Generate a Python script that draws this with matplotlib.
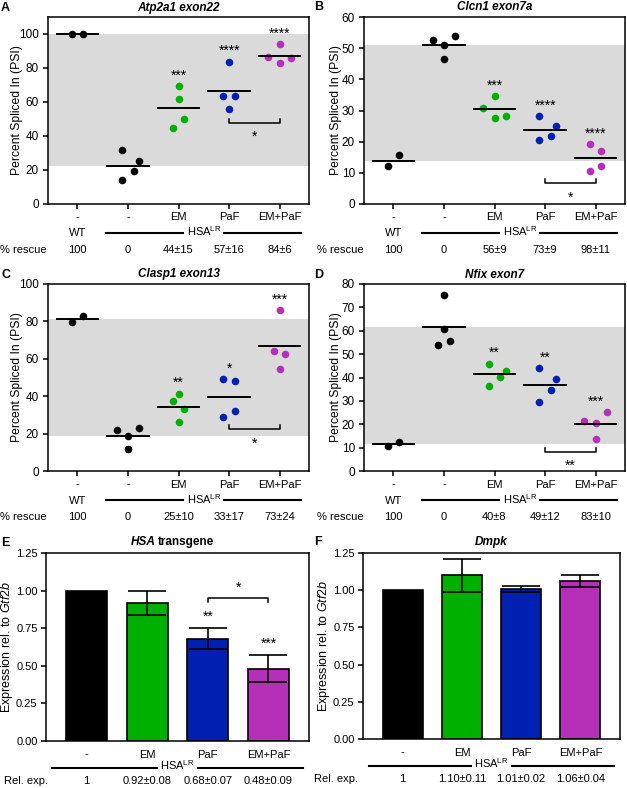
import matplotlib
matplotlib.use('Agg')
import matplotlib.pyplot as plt
from matplotlib.transforms import offset_copy
import numpy as np

plt.rcParams['font.family'] = 'Liberation Sans'
plt.rcParams['mathtext.fontset'] = 'custom'
plt.rcParams['mathtext.rm'] = 'Liberation Sans'
plt.rcParams['mathtext.it'] = 'Liberation Sans:italic'
plt.rcParams['mathtext.bf'] = 'Liberation Sans:bold'

W, H = 627, 788

groups = ['-', '-', 'EM', 'PaF', 'EM+PaF']
bar_groups = ['-', 'EM', 'PaF', 'EM+PaF']
colors = ['black', 'black', '#00b000', '#0020b2', '#b52fb9']
bar_colors = ['black', '#00b000', '#0020b2', '#b52fb9']

# PSI values per group: WT, HSA-LR untreated, EM, PaF, EM+PaF
atp2a1 = [[99.8, 100.0], [31.6, 25.1, 19.6, 13.9], [69.5, 61.9, 50.1, 44.6],
          [83.7, 63.3, 63.3, 55.6], [93.9, 86.4, 85.7, 82.9]]
atp2a1_slots = [[-1, 1], [-1, 2, 1, -1], [0, 0, 1, -1], [0, -1, 1, 0], [0, -2, 2, 0]]
atp2a1_rescue = ['100', '0', '44±15', '57±16', '84±6']

clcn1 = [[12.3, 15.6], [52.7, 53.8, 51.0, 46.4], [30.8, 34.7, 27.7, 28.2],
         [28.1, 25.0, 21.8, 20.5], [19.2, 17.0, 12.1, 10.5]]
clcn1_slots = [[-1, 1], [-2, 2, 0, 0], [-2, 0, 0, 2], [-1, 2, 1, -1], [-1, 1, 1, -1]]
clcn1_rescue = ['100', '0', '56±9', '73±9', '98±11']

clasp1 = [[79.6, 82.7], [22.1, 23.0, 18.6, 11.8], [37.3, 41.3, 32.9, 26.3],
          [49.1, 48.2, 32.0, 28.9], [85.9, 64.3, 62.5, 54.6]]
clasp1_slots = [[-1, 1], [-2, 2, 0, 0], [-1, 0, 1, 0], [-1, 1, 1, -1], [0, -1, 1, 0]]
clasp1_rescue = ['100', '0', '25±10', '33±17', '73±24']

nfix = [[10.7, 12.3], [75.1, 60.9, 55.7, 54.0], [45.9, 42.6, 40.4, 36.4],
        [43.9, 39.3, 34.6, 29.7], [25.1, 21.6, 20.6, 13.7]]
nfix_slots = [[-1, 1], [0, 0, 1, -1], [-1, 2, 1, -1], [-1, 2, 1, -1], [2, -2, 0, 0]]
nfix_rescue = ['100', '0', '40±8', '49±12', '83±10']

# expression relative to Gtf2b
hsa_expr = [1.0, 0.92, 0.68, 0.48]
hsa_err = [0.0, 0.08, 0.07, 0.09]
hsa_labels = ['1', '0.92±0.08', '0.68±0.07', '0.48±0.09']
dmpk_expr = [1.0, 1.10, 1.01, 1.06]
dmpk_err = [0.0, 0.11, 0.02, 0.04]
dmpk_labels = ['1', '1.10±0.11', '1.01±0.02', '1.06±0.04']

fig = plt.figure(figsize=(W / 100, H / 100), dpi=100)


def ptext(x, y, s, **kw):
    fig.text(x / W, 1 - y / H, s, **kw)


def make_axes(l, t, r, b, labelsize=8.5, pad=3):
    ax = fig.add_axes([l / W, 1 - b / H, (r - l) / W, (b - t) / H])
    for sp in ax.spines.values():
        sp.set_linewidth(1.1)
    ax.tick_params(direction='out', length=3.6, width=1.1, labelsize=labelsize, pad=pad)
    return ax


def below(ax, x, dy, s, **kw):
    ax.annotate(s, xy=(x, 0), xycoords=ax.get_xaxis_transform(), xytext=(0, -dy),
                textcoords='offset pixels', ha='center', va='baseline',
                fontsize=8, annotation_clip=False, **kw)


def hsa_line(ax, x0, x1, dy_line, dy_text):
    tr = ax.get_xaxis_transform()
    ax.plot([x0, x1], [0, 0], color='black', lw=1.5, clip_on=False,
            transform=offset_copy(tr, fig=fig, x=0, y=-dy_line, units='dots'))
    below(ax, (x0 + x1) / 2, dy_text, 'HSA$^{\\mathrm{LR}}$',
          bbox=dict(facecolor='white', edgecolor='none', pad=1.5))


def psi_panel(rect, title, vals, slots, ylim, ystep, stars, br_y, br_star, rescue, rescue_x):
    l, t, r, b = rect
    ax = make_axes(l, t, r, b)
    ax.axhspan(np.mean(vals[1]), np.mean(vals[0]), color='#dadada', lw=0, zorder=0)
    for i, (v, s) in enumerate(zip(vals, slots)):
        ax.scatter(i + 0.112 * np.array(s), v, s=30, color=colors[i], linewidths=0, zorder=3)
        m = np.mean(v)
        ax.plot([i - 0.41, i + 0.41], [m, m], color='black', lw=1.4, zorder=4)
        if stars[i]:
            ax.annotate(stars[i], xy=(i, max(v)), xytext=(0, 6.5), textcoords='offset pixels',
                        ha='center', va='baseline', fontsize=10)
    # bracket PaF vs EM+PaF
    tick = 4 * (ylim[1] - ylim[0]) / (b - t)
    ax.plot([3, 3, 4, 4], [br_y + tick, br_y, br_y, br_y + tick], color='black', lw=1.1, zorder=4)
    ax.annotate(br_star, xy=(3.5, br_y), xytext=(0, -18.5), textcoords='offset pixels',
                ha='center', va='baseline', fontsize=10)
    ax.set_xlim(-0.58, 4.58)
    ax.set_ylim(*ylim)
    ax.set_yticks(np.arange(0, ylim[1] + 0.01, ystep))
    ax.set_xticks(range(5))
    ax.set_xticklabels([])
    for i, g in enumerate(groups):
        below(ax, i, 16.5, g)
        below(ax, i, 49, rescue[i])
    below(ax, 0, 32.5, 'WT')
    hsa_line(ax, 0.57, 4.43, 29, 32.5)
    ptext(rescue_x, b + 49, '% rescue', fontsize=8, ha='left', va='baseline')
    ptext((l + r) / 2, t - 6.5, title, fontsize=8.5, fontweight='bold', fontstyle='italic',
          ha='center', va='baseline')
    ax.set_ylabel('Percent Spliced In (PSI)', fontsize=8.7)
    return ax


def bar_panel(rect, vals, errs, labels, label_x):
    l, t, r, b = rect
    ax = make_axes(l, t, r, b, labelsize=8, pad=2.5)
    ax.bar(range(4), vals, width=0.68, color=bar_colors, edgecolor='black', linewidth=1.2, zorder=2)
    ax.errorbar(range(1, 4), vals[1:], yerr=errs[1:], fmt='none', ecolor='black',
                elinewidth=1.2, capsize=13.5, capthick=1.2, zorder=3)
    ax.set_xlim(-0.67, 3.67)
    ax.set_ylim(0, 1.25)
    ax.set_yticks(np.arange(0, 1.26, 0.25))
    ax.set_yticklabels(['%.2f' % v for v in np.arange(0, 1.26, 0.25)])
    ax.set_xticks([])
    for i, g in enumerate(bar_groups):
        below(ax, i, 16.5, g)
        below(ax, i, 43.5, labels[i])
    hsa_line(ax, -0.57, 3.57, 27, 29.5)
    ptext(label_x, b + 43.5, 'Rel. exp.', fontsize=8, ha='left', va='baseline')
    ax.set_ylabel('Expression rel. to $\\mathit{Gtf2b}$', fontsize=9)
    return ax


axA = psi_panel((48, 17, 309, 204), 'Atp2a1 exon22', atp2a1, atp2a1_slots, (0, 110), 20,
                ['', '', '***', '****', '****'], 47.9, '*', atp2a1_rescue, 0)
axB = psi_panel((364, 17, 625, 204), 'Clcn1 exon7a', clcn1, clcn1_slots, (0, 60), 10,
                ['', '', '***', '****', '****'], 6.8, '*', clcn1_rescue, 317)
axC = psi_panel((48, 284, 309, 471), 'Clasp1 exon13', clasp1, clasp1_slots, (0, 100), 20,
                ['', '', '**', '*', '***'], 22.3, '*', clasp1_rescue, 0)
axD = psi_panel((364, 284, 625, 471), 'Nfix exon7', nfix, nfix_slots, (0, 80), 10,
                ['', '', '**', '**', '***'], 8.3, '**', nfix_rescue, 317)

axA.yaxis.set_label_coords(-24.5 / 261, 0.5)
axC.yaxis.set_label_coords(-24.5 / 261, 0.5)
axB.yaxis.set_label_coords(-22.5 / 261, 0.5)
axD.yaxis.set_label_coords(-22.5 / 261, 0.5)

axE = bar_panel((46, 553, 309, 741), hsa_expr, hsa_err, hsa_labels, 4)
axF = bar_panel((363, 553, 620, 739), dmpk_expr, dmpk_err, dmpk_labels, 314)
axE.yaxis.set_label_coords(-30.5 / 263, 0.5)
axF.yaxis.set_label_coords(-30.5 / 257, 0.5)

# significance on E
for i, st in [(2, '**'), (3, '***')]:
    axE.annotate(st, xy=(i, hsa_expr[i] + hsa_err[i]), xytext=(0, 7), textcoords='offset pixels',
                 ha='center', va='baseline', fontsize=10)
tk = 4 * 1.25 / 188
axE.plot([2, 2, 3, 3], [0.954 - tk, 0.954, 0.954, 0.954 - tk], color='black', lw=1.1)
axE.annotate('*', xy=(2.5, 0.954), xytext=(0, 6), textcoords='offset pixels',
             ha='center', va='baseline', fontsize=10)

# titles for E and F
ptext(155.5, 545, 'HSA', fontsize=8.5, fontweight='bold', fontstyle='italic', ha='right', va='baseline')
ptext(158, 545, 'transgene', fontsize=8.5, fontweight='bold', ha='left', va='baseline')
ptext((363 + 620) / 2, 545, 'Dmpk', fontsize=8.5, fontweight='bold', fontstyle='italic',
      ha='center', va='baseline')

# panel letters
for letter, x, y in [('A', 1, 10.7), ('B', 314, 10.5), ('C', 1, 277.7), ('D', 314, 277.5),
                     ('E', 1, 546), ('F', 314, 545)]:
    ptext(x, y, letter, fontsize=9, fontweight='bold', ha='left', va='baseline')

fig.savefig('out.png', dpi=100)
